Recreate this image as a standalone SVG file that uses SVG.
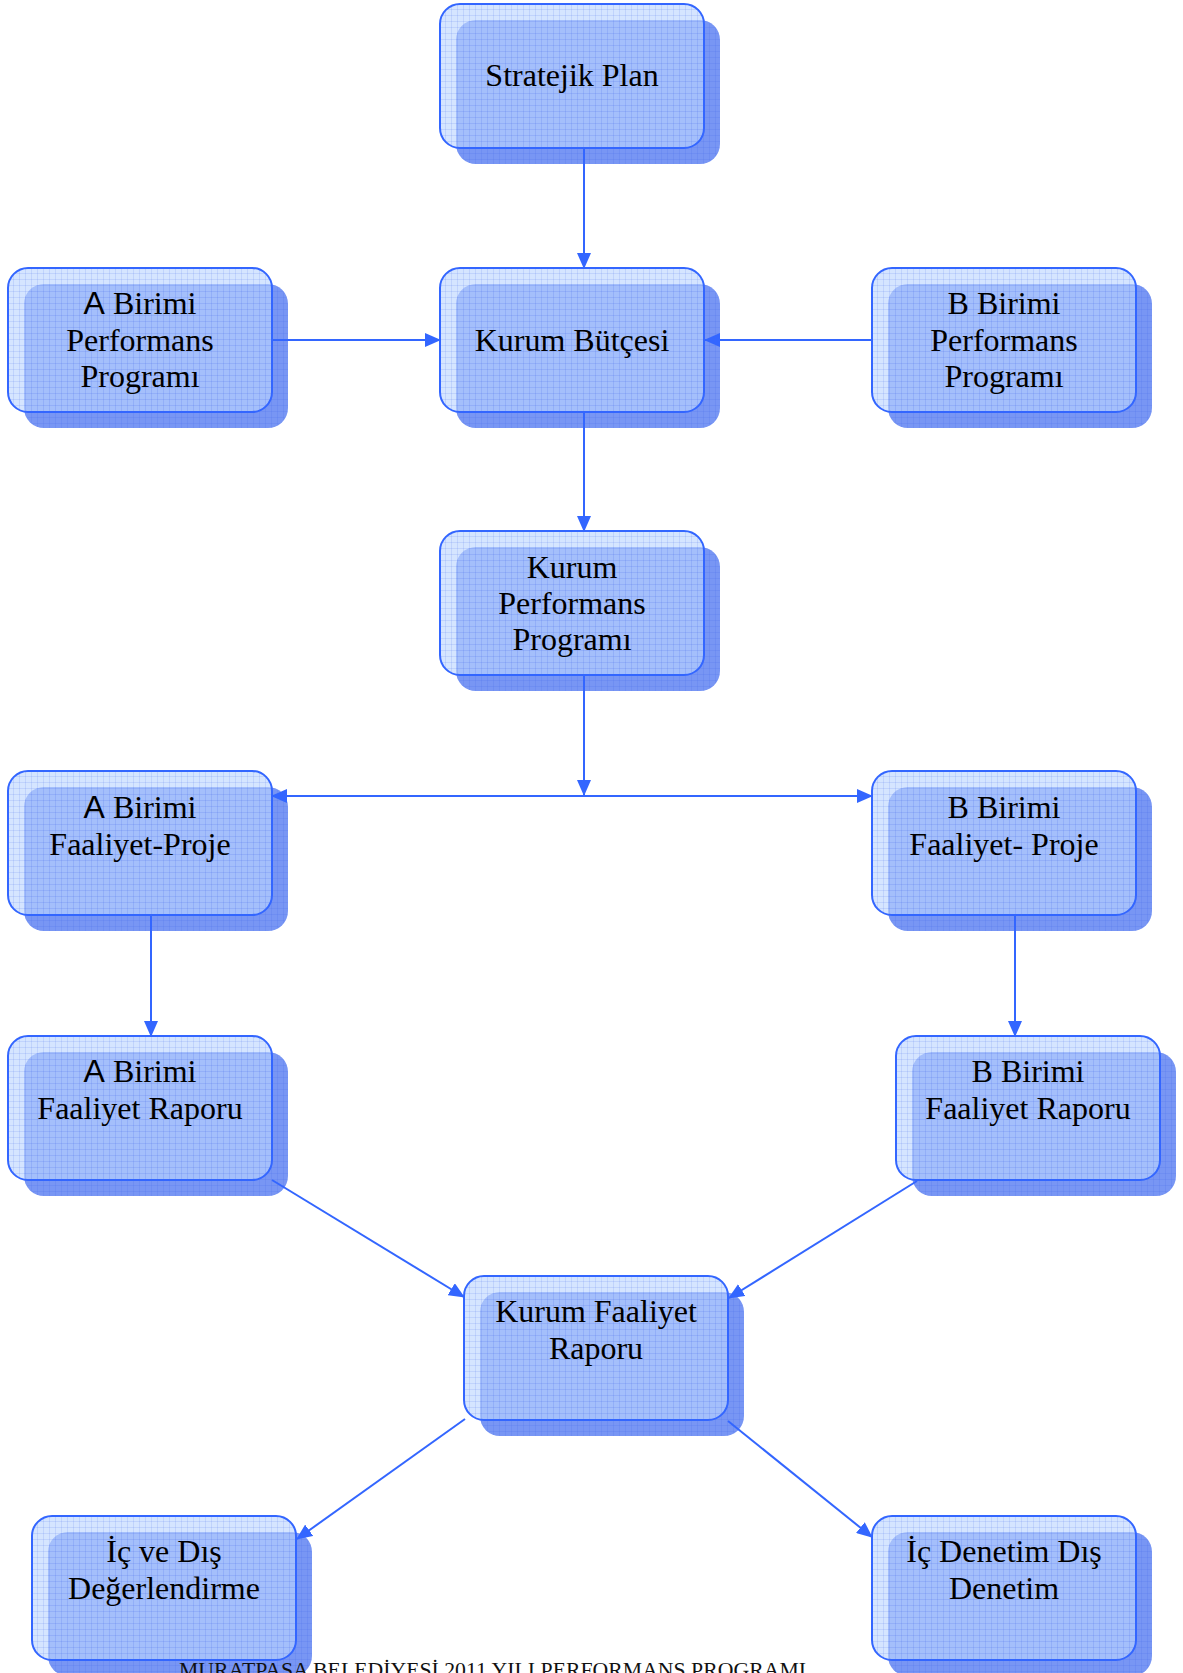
<svg xmlns="http://www.w3.org/2000/svg" xmlns:xlink="http://www.w3.org/1999/xlink" width="1183" height="1673" viewBox="0 0 1183 1673">
<style>
.t{font-family:"Liberation Serif","Times New Roman",serif;font-size:32px;fill:#000;text-anchor:middle}
.sa{font-family:"Liberation Sans",Arial,sans-serif}
.foot{font-family:"Liberation Serif","Times New Roman",serif;font-size:22px;fill:#111}
</style>
<defs>
<pattern id="grid" width="6" height="6" patternUnits="userSpaceOnUse">
<path d="M6 0V6H0" fill="none" stroke="#2f52e8" stroke-opacity="0.25" stroke-width="1"/>
</pattern>
<marker id="arr" viewBox="0 0 16 14" refX="15" refY="7" markerWidth="16" markerHeight="14" markerUnits="userSpaceOnUse" orient="auto">
<path d="M0,0 L16,7 L0,14 z" fill="#3366ff"/>
</marker>
<g id="box">
<rect x="16" y="16" width="264" height="144" rx="20" fill="#7896f4"/>
<rect x="16" y="16" width="264" height="144" rx="20" fill="url(#grid)"/>
<rect x="0" y="0" width="264" height="144" rx="20" fill="#bdd6ff" fill-opacity="0.64"/>
<rect x="0" y="0" width="264" height="144" rx="20" fill="url(#grid)" stroke="#3366ff" stroke-width="2"/>
</g>
</defs>
<rect width="1183" height="1673" fill="#fff"/>

<g id="n-stratejik-plan">
<use xlink:href="#box" x="440" y="4"/>
<text class="t" x="572" y="86">Stratejik Plan</text>
</g>
<g id="n-a-performans">
<use xlink:href="#box" x="8" y="268"/>
<text class="t" x="140" y="314"><tspan class="sa">A</tspan> Birimi</text>
<text class="t" x="140" y="351">Performans</text>
<text class="t" x="140" y="387">Programı</text>
</g>
<g id="n-kurum-butcesi">
<use xlink:href="#box" x="440" y="268"/>
<text class="t" x="572" y="351">Kurum Bütçesi</text>
</g>
<g id="n-b-performans">
<use xlink:href="#box" x="872" y="268"/>
<text class="t" x="1004" y="314">B Birimi</text>
<text class="t" x="1004" y="351">Performans</text>
<text class="t" x="1004" y="387">Programı</text>
</g>
<g id="n-kurum-performans">
<use xlink:href="#box" x="440" y="531"/>
<text class="t" x="572" y="578">Kurum</text>
<text class="t" x="572" y="614">Performans</text>
<text class="t" x="572" y="650">Programı</text>
</g>
<g id="n-a-faaliyet-proje">
<use xlink:href="#box" x="8" y="771"/>
<text class="t" x="140" y="818"><tspan class="sa">A</tspan> Birimi</text>
<text class="t" x="140" y="855">Faaliyet-Proje</text>
</g>
<g id="n-b-faaliyet-proje">
<use xlink:href="#box" x="872" y="771"/>
<text class="t" x="1004" y="818">B Birimi</text>
<text class="t" x="1004" y="855">Faaliyet- Proje</text>
</g>
<g id="n-a-faaliyet-raporu">
<use xlink:href="#box" x="8" y="1036"/>
<text class="t" x="140" y="1082"><tspan class="sa">A</tspan> Birimi</text>
<text class="t" x="140" y="1119">Faaliyet Raporu</text>
</g>
<g id="n-b-faaliyet-raporu">
<use xlink:href="#box" x="896" y="1036"/>
<text class="t" x="1028" y="1082">B Birimi</text>
<text class="t" x="1028" y="1119">Faaliyet Raporu</text>
</g>
<g id="n-kurum-faaliyet-raporu">
<use xlink:href="#box" x="464" y="1276"/>
<text class="t" x="596" y="1322">Kurum Faaliyet</text>
<text class="t" x="596" y="1359">Raporu</text>
</g>
<g id="n-ic-dis-degerlendirme">
<use xlink:href="#box" x="32" y="1516"/>
<text class="t" x="164" y="1562">İç ve Dış</text>
<text class="t" x="164" y="1599">Değerlendirme</text>
</g>
<g id="n-ic-denetim">
<use xlink:href="#box" x="872" y="1516"/>
<text class="t" x="1004" y="1562">İç Denetim Dış</text>
<text class="t" x="1004" y="1599">Denetim</text>
</g>

<g id="connectors" stroke="#3366ff" stroke-width="2" fill="none" marker-end="url(#arr)">
<line x1="584" y1="147" x2="584" y2="268"/>
<line x1="272" y1="340" x2="440" y2="340"/>
<line x1="872" y1="340" x2="705" y2="340"/>
<line x1="584" y1="412" x2="584" y2="531"/>
<line x1="584" y1="675" x2="584" y2="795"/>
<line x1="584" y1="796" x2="272" y2="796"/>
<line x1="584" y1="796" x2="872" y2="796"/>
<line x1="151" y1="915" x2="151" y2="1036"/>
<line x1="1015" y1="915" x2="1015" y2="1036"/>
<line x1="272" y1="1180" x2="464" y2="1297"/>
<line x1="917" y1="1181" x2="729" y2="1298"/>
<line x1="465" y1="1419" x2="297" y2="1539"/>
<line x1="728" y1="1421" x2="872" y2="1537"/>
</g>

<text class="foot" x="179" y="1677" textLength="627" lengthAdjust="spacingAndGlyphs">MURATPAŞA BELEDİYESİ 2011 YILI PERFORMANS PROGRAMI</text>
</svg>
